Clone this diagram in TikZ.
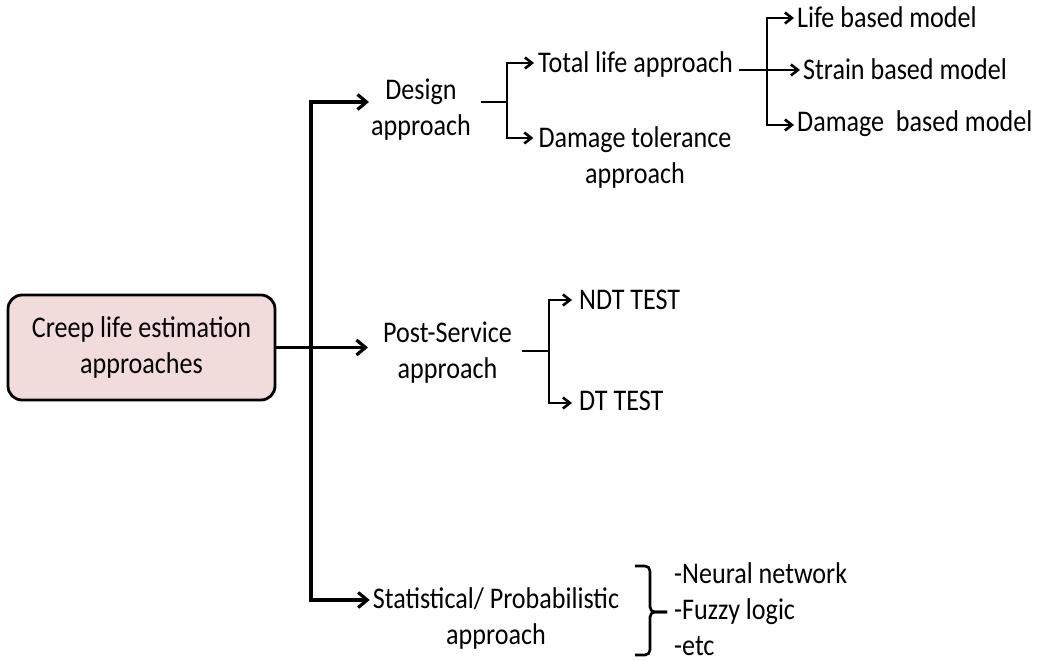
\documentclass[tikz,border=0pt]{standalone}
\usepackage{fontspec}
\setmainfont{Carlito}[FakeStretch=0.87]
\usetikzlibrary{arrows.meta}
\definecolor{boxpink}{HTML}{F2DCDB}
\begin{document}
\begin{tikzpicture}[x=1bp,y=-1bp,
  txt/.style={inner sep=0pt, font=\fontsize{30bp}{36bp}\selectfont},
  trunk/.style={line width=4bp},
  mainarr/.style={line width=3.2bp, -{Straight Barb[length=9bp,width=15bp]}},
  subline/.style={line width=2.6bp},
  subarr/.style={line width=2.6bp, -{Straight Barb[length=7bp,width=11bp]}},
  subarrs/.style={line width=2.6bp, {Straight Barb[length=7bp,width=11bp]}-{Straight Barb[length=7bp,width=11bp]}},
  rootbox/.style={txt, draw, line width=2.8bp, fill=boxpink, rounded corners=14bp,
    minimum width=267bp, minimum height=105bp, align=center}]
\useasboundingbox (0,0) rectangle (1040,661);

% nodes (multi-line nodes sit on the baseline of their last line)
\node[rootbox] (root) at (141.5,347.5) {Creep life estimation\\approaches};
\node[txt, align=center, anchor=base] (design) at (421,136) {Design\\approach};
\node[txt, align=center, anchor=base] (post) at (447.5,378) {Post-Service\\approach};
\node[txt, align=center, anchor=base] (stat) at (496,644) {Statistical/ Probabilistic\\approach};
\node[txt, anchor=base west] (total) at (538,73) {Total life approach};
\node[txt, align=center, anchor=base] (damtol) at (635,184) {Damage tolerance\\approach};
\node[txt, anchor=base west] (life) at (797,28) {Life based model};
\node[txt, anchor=base west] (strain) at (803,80) {Strain based model};
\node[txt, anchor=base west] (dambased) at (797,132) {Damage\ \ based model};
\node[txt, anchor=base west] (ndt) at (579,309) {NDT TEST};
\node[txt, anchor=base west] (dt) at (579,410) {DT TEST};
\node[txt, align=left, anchor=base west] (methods) at (674,655) {-Neural network\\-Fuzzy logic\\-etc};

% main trunk
\coordinate (tTop) at (311,102);
\coordinate (tBot) at (311,600);
\draw[trunk] (tTop) -- (tBot);
\draw[mainarr] ([xshift=-2bp]tTop) -- ([xshift=-2bp]tTop -| design.west);
\draw[mainarr] (root.east) -- ([xshift=-15bp]root.east -| post.west);
\draw[mainarr] ([xshift=-2bp]tBot) -- ([xshift=-3bp]tBot -| stat.west);

% design branch
\coordinate (j1) at (507,102);
\coordinate (j1t) at (507,63);
\coordinate (j1b) at (507,138);
\draw[subline] ([xshift=10bp]design.east |- j1) -- (j1);
\draw[subarrs] ([xshift=-4bp]j1t -| total.west) -- (j1t) -- (j1b) -- ([xshift=-5bp]j1b -| damtol.west);

% total life branch
\coordinate (j2) at (767,70);
\coordinate (j2t) at (767,18);
\coordinate (j2b) at (767,125);
\draw[subarr] ([xshift=6bp]total.east |- j2) -- ([xshift=-3bp]j2 -| strain.west);
\draw[subarrs] ([xshift=-3bp]j2t -| life.west) -- (j2t) -- (j2b) -- ([xshift=-3bp]j2b -| dambased.west);

% post-service branch
\coordinate (j3) at (549,351);
\coordinate (j3t) at (549,300);
\coordinate (j3b) at (549,403);
\draw[subline] ([xshift=10bp]post.east |- j3) -- (j3);
\draw[subarrs] ([xshift=-7bp]j3t -| ndt.west) -- (j3t) -- (j3b) -- ([xshift=-7bp]j3b -| dt.west);

% brace before the method list
\coordinate (btip) at (667,612);
\draw[subline, rounded corners=5bp] (635,566) -- (650,566) -- (650,612) -- (btip);
\draw[subline, rounded corners=5bp] (btip) -- (650,612) -- (650,655) -- (635,655);
\end{tikzpicture}
\end{document}
